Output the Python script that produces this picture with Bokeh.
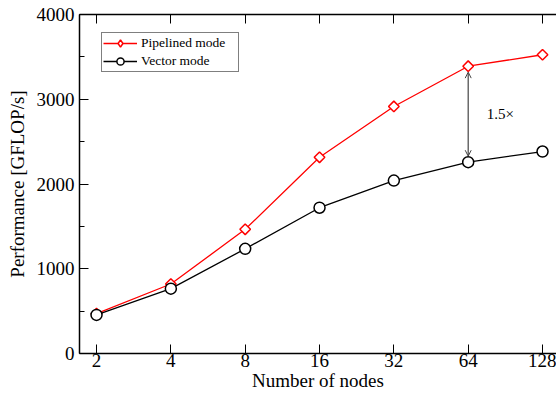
import math
from bokeh.plotting import figure
from bokeh.models import (Range1d, FixedTicker, BasicTickFormatter, LogAxis, LinearAxis,
                          SingleIntervalTicker, Legend, LegendItem, Arrow, OpenHead, Label)
from bokeh.embed import file_html
from bokeh.resources import INLINE

# ---- data ----
nodes = [2, 4, 8, 16, 32, 64, 128]
pipelined = [470, 820, 1465, 2315, 2915, 3390, 3525]
vector = [455, 765, 1235, 1720, 2040, 2258, 2383]
series_names = ["Pipelined mode", "Vector mode"]
speedup_label = "1.5\u00d7"
x_title = "Number of nodes"
y_title = "Performance [GFLOP/s]"

FONT = "Liberation Serif"

x_lo = 2 ** (math.log2(nodes[0]) - 0.229)
x_hi = 2 ** (math.log2(nodes[-1]) + 0.188)

p = figure(width=556, height=394, output_backend="svg", toolbar_location=None,
           x_axis_type="log", x_range=Range1d(x_lo, x_hi), y_range=Range1d(0, 4000),
           min_border_left=79, min_border_right=0, min_border_top=14, min_border_bottom=41,
           x_axis_location=None, y_axis_location=None)
p.outline_line_color = None
p.grid.visible = False
p.background_fill_color = "white"
p.border_fill_color = "white"

def style_axis(ax):
    ax.axis_line_color = "black"
    ax.axis_line_width = 1.5
    ax.major_tick_line_color = "black"
    ax.minor_tick_line_color = "black"
    ax.major_tick_line_width = 1
    ax.minor_tick_line_width = 1
    ax.major_tick_out = 0
    ax.minor_tick_out = 0
    ax.major_label_text_font = FONT
    ax.major_label_text_font_size = "19px"
    ax.major_label_text_color = "black"
    ax.axis_label_text_font = FONT
    ax.axis_label_text_font_size = "19px"
    ax.axis_label_text_font_style = "normal"
    ax.axis_label_text_color = "black"

xticker = FixedTicker(ticks=nodes, minor_ticks=[])
bottom = LogAxis(ticker=xticker, formatter=BasicTickFormatter(use_scientific=False),
                 axis_label=x_title)
style_axis(bottom)
bottom.major_tick_in = 9
bottom.major_label_standoff = 0
bottom.axis_label_standoff = 0
bottom.major_label_text_line_height = 0.9
bottom.axis_label_text_line_height = 0.9
p.add_layout(bottom, "below")

top = LogAxis(ticker=xticker)
style_axis(top)
top.major_tick_in = 9
top.major_label_text_font_size = "0px"
top.major_label_standoff = 0
top.major_label_text_color = None
p.add_layout(top, "above")

yticker = SingleIntervalTicker(interval=1000, num_minor_ticks=2)
left = LinearAxis(ticker=yticker, axis_label=y_title)
style_axis(left)
left.major_tick_in = 9
left.minor_tick_in = 5
left.major_label_standoff = 5
left.axis_label_standoff = 6
p.add_layout(left, "left")

# ---- series ----
r_line = p.line(nodes, pipelined, line_color="#ff0000", line_width=1.3)
# diamond-shaped marker used for the legend (hidden below the rotated squares)
r_leg = p.scatter(nodes, pipelined, marker="diamond", size=6,
                  line_color="#ff0000", line_width=1.5, fill_color="white")
r_mark = p.scatter(nodes, pipelined, marker="square", angle=math.pi / 4, size=7.5,
                   line_color="#ff0000", line_width=1.5, fill_color="white")

# arrow between the two series at 64 nodes
i64 = nodes.index(64)
arrow = Arrow(start=OpenHead(size=6, line_color="#444444", line_width=1),
              end=OpenHead(size=6, line_color="#444444", line_width=1),
              x_start=nodes[i64], y_start=vector[i64] + 70,
              x_end=nodes[i64], y_end=pipelined[i64] - 70,
              line_color="#444444", line_width=1.2)
p.add_layout(arrow)

b_line = p.line(nodes, vector, line_color="black", line_width=1.3)
b_mark = p.scatter(nodes, vector, marker="circle", size=11,
                   line_color="black", line_width=1.5, fill_color="white")

lab = Label(x=nodes[i64] * 2 ** 0.25, y=(pipelined[i64] + vector[i64]) / 2,
            text=speedup_label, text_font=FONT, text_font_size="15px",
            text_color="black", text_align="left", text_baseline="middle")
p.add_layout(lab)

legend = Legend(items=[LegendItem(label=series_names[0], renderers=[r_line, r_leg]),
                       LegendItem(label=series_names[1], renderers=[b_line, b_mark])],
                location=(22, 281))
legend.border_line_color = "black"
legend.border_line_width = 1
legend.background_fill_alpha = 1
legend.padding = 1
legend.spacing = 0
legend.margin = 0
legend.glyph_width = 34
legend.glyph_height = 18
legend.label_height = 17
legend.label_width = 96
legend.label_standoff = 4
legend.label_text_font = FONT
legend.label_text_font_size = "13.5px"
legend.label_text_color = "black"
p.add_layout(legend, "center")

open("out.html", "w").write(file_html(p, INLINE))
